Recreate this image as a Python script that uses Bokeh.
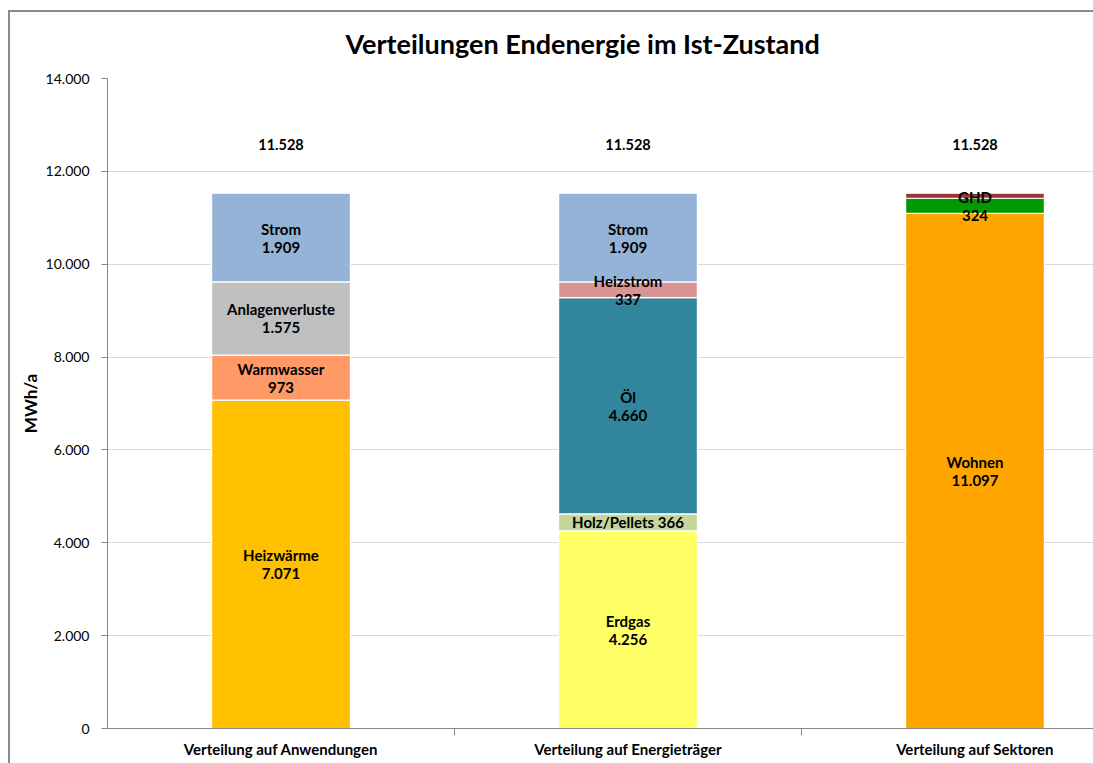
from bokeh.plotting import figure
from bokeh.models import ColumnDataSource, FixedTicker, InlineStyleSheet
from bokeh.core.properties import value
from bokeh.embed import file_html
from bokeh.resources import INLINE

# ---- data ----
categories = ["Verteilung auf Anwendungen", "Verteilung auf Energieträger", "Verteilung auf Sektoren"]

anwendungen_names = ["Heizwärme", "Warmwasser", "Anlagenverluste", "Strom"]
anwendungen_values = [7071, 973, 1575, 1909]

energietraeger_names = ["Erdgas", "Holz/Pellets", "Öl", "Heizstrom", "Strom"]
energietraeger_values = [4256, 366, 4660, 337, 1909]

sektoren_names = ["Wohnen", "GHD", "Industrie"]
sektoren_values = [11097, 324, 107]

y_ticks = [0, 2000, 4000, 6000, 8000, 10000, 12000, 14000]

# ---- styles ----
colors = {
    "Heizwärme": "#FFC000", "Warmwasser": "#FF9966", "Anlagenverluste": "#BFBFBF",
    "Strom": "#95B3D7", "Erdgas": "#FFFF66", "Holz/Pellets": "#C3D69B",
    "Öl": "#31859C", "Heizstrom": "#D99594", "Wohnen": "#FFA500",
    "GHD": "#009900", "Industrie": "#953735",
}
one_line = {"Holz/Pellets"}
no_label = {"Industrie"}

FONT = "Lato"


def de(v):
    return f"{v:,}".replace(",", ".")


stacks = [
    (anwendungen_names, anwendungen_values),
    (energietraeger_names, energietraeger_values),
    (sektoren_names, sektoren_values),
]

seg = dict(x=[], bottom=[], top=[], color=[], mid=[], label=[])
tot = dict(x=[], y=[], label=[])
for i, (names, vals) in enumerate(stacks):
    b = 0
    for n, v in zip(names, vals):
        seg["x"].append(i + 0.5)
        seg["bottom"].append(b)
        seg["top"].append(b + v)
        seg["color"].append(colors[n])
        seg["mid"].append(b + v / 2)
        if n in no_label:
            seg["label"].append("")
        elif n in one_line:
            seg["label"].append(f"{n} {de(v)}")
        else:
            seg["label"].append(f"{n}\n{de(v)}")
        b += v
    tot["x"].append(i + 0.5)
    tot["y"].append(b)
    tot["label"].append(de(b))

src = ColumnDataSource(seg)
tsrc = ColumnDataSource(tot)

p = figure(width=1093, height=763, x_range=(0, 986 / 347), y_range=(0, 14000),
           output_backend="svg", toolbar_location=None,
           min_border_left=107, min_border_top=78, min_border_bottom=35, min_border_right=0)

p.title.text = "Verteilungen Endenergie im Ist-Zustand"
p.title.align = "left"
p.title.offset = 238
p.title.text_font = FONT
p.title.text_font_size = "27px"
p.title.text_font_style = "bold"
p.title.text_color = "#000000"
p.title.standoff = 37

p.outline_line_color = None
p.background_fill_color = "white"
p.border_fill_color = "white"

p.vbar(x="x", bottom="bottom", top="top", width=0.4, fill_color="color",
       line_color="white", line_width=1.2, source=src)

p.text(x="x", y="mid", text="label", source=src, text_align="center",
       text_baseline="middle", text_font=value(FONT), text_font_size="15px",
       text_font_style="bold", text_color="#000000", text_line_height=1.0)

p.text(x="x", y="y", text="label", source=tsrc, text_align="center",
       text_baseline="middle", y_offset=-49, text_font=value(FONT),
       text_font_size="14.5px", text_font_style="bold", text_color="#000000")

# y axis
p.yaxis.ticker = FixedTicker(ticks=y_ticks)
p.yaxis.major_label_overrides = {t: de(t) for t in y_ticks}
p.yaxis.axis_label = "MWh/a"
p.yaxis.axis_label_text_font = FONT
p.yaxis.axis_label_text_font_size = "17px"
p.yaxis.axis_label_text_font_style = "bold"
p.yaxis.axis_label_text_color = "#000000"
p.yaxis.axis_label_standoff = 2
p.yaxis.major_label_text_font = FONT
p.yaxis.major_label_text_font_size = "14px"
p.yaxis.major_label_text_color = "#000000"
p.yaxis.major_label_standoff = 12
p.yaxis.major_tick_out = 6
p.yaxis.major_tick_in = 0
p.yaxis.minor_tick_line_color = None
p.yaxis.axis_line_color = "#868686"
p.yaxis.major_tick_line_color = "#868686"

# x axis
p.xaxis.ticker = FixedTicker(ticks=[0.5, 1.5, 2.5], minor_ticks=[1, 2, 3])
p.xaxis.major_label_overrides = {0.5: categories[0], 1.5: categories[1], 2.5: categories[2]}
p.xaxis.major_tick_line_color = None
p.xaxis.major_tick_out = 0
p.xaxis.major_tick_in = 0
p.xaxis.minor_tick_out = 7
p.xaxis.minor_tick_in = 0
p.xaxis.minor_tick_line_color = "#868686"
p.xaxis.axis_line_color = "#868686"
p.xaxis.major_label_standoff = 4
p.xaxis.major_label_text_font = FONT
p.xaxis.major_label_text_font_size = "15px"
p.xaxis.major_label_text_font_style = "bold"
p.xaxis.major_label_text_color = "#000000"

p.xgrid.grid_line_color = None
p.ygrid.ticker = FixedTicker(ticks=y_ticks)
p.ygrid.grid_line_color = "#D9D9D9"
p.ygrid.grid_line_width = 1

# outer chart border lines (overlay pseudo-elements, no effect on layout)
p.stylesheets = [InlineStyleSheet(css=(
    ":host::before { content: ''; position: absolute; left: 8px; top: 10px;"
    " width: 2px; bottom: 0px; background: #8c8c8c; pointer-events: none; z-index: 5; }"
    ":host::after { content: ''; position: absolute; left: 8px; top: 10px;"
    " height: 2px; right: 0px; background: #8c8c8c; pointer-events: none; z-index: 5; }"
))]

open("out.html", "w").write(file_html(p, INLINE))
